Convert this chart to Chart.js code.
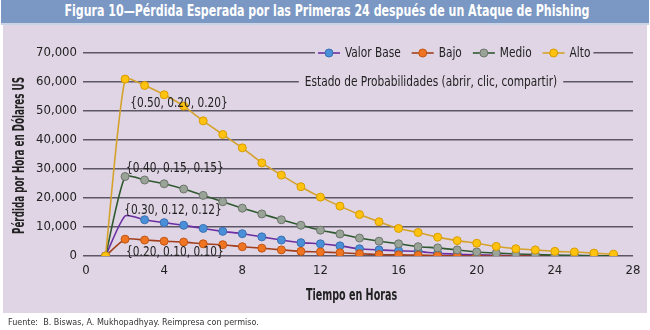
<!DOCTYPE html>
<html>
<head>
<meta charset="utf-8">
<script src="https://cdn.jsdelivr.net/npm/chart.js@4.4.1/dist/chart.umd.min.js"></script>
<style>
  html, body { margin: 0; padding: 0; background: #ffffff; }
  #wrap { position: relative; width: 650px; height: 330px; overflow: hidden; }
  #panel { position: absolute; left: 3px; top: 25px; width: 644px; height: 288px; background: #e0d5e5; }
  #titlebar { position: absolute; left: 1px; top: 0; width: 648px; height: 23px; background: #7b97c3;
    border-bottom: 2px solid #c8d3e6; }
  #titletext { position: absolute; left: 327px; top: 2px; white-space: nowrap; color: #ffffff;
    font-family: "DejaVu Sans Condensed", "Liberation Sans", sans-serif; font-weight: bold; font-size: 15px;
    line-height: 19px; transform-origin: 0 50%; }
  #footer { position: absolute; left: 8px; top: 316px; white-space: nowrap; font-family: "DejaVu Sans Condensed", "Liberation Sans", sans-serif;
    font-size: 9.5px; color: #333333; transform-origin: 0 50%; transform: scaleX(0.94); }
  #c { position: absolute; left: 0; top: 0; }
</style>
</head>
<body>
<div id="wrap">
  <div id="panel"></div>
  <div id="titlebar"></div>
  <span id="titletext">Figura 10—Pérdida Esperada por las Primeras 24 después de un Ataque de Phishing</span>
  <canvas id="c" width="650" height="330"></canvas>
  <div id="footer">Fuente:&nbsp; B. Biswas, A. Mukhopadhyay. Reimpresa con permiso.</div>
</div>
<script>
// ---- data ----
const hours = [1,2,3,4,5,6,7,8,9,10,11,12,13,14,15,16,17,18,19,20,21,22,23,24,25,26,27];
const valorBase = [0,13800,12500,11500,10600,9500,8500,7700,6600,5500,4600,4200,3500,2500,2100,1800,1600,900,600,400,200,100,100,0,0,0,0];
const bajo = [0,5800,5500,5100,4800,4200,3900,3200,2700,2100,1600,1400,1100,800,500,400,300,100,0,0,0,0,0,0,0,0,0];
const medio = [0,27400,26200,24900,23100,20900,18700,16500,14500,12500,10600,8900,7600,6200,5100,4200,3200,2800,2100,1400,1000,700,500,300,200,100,100];
const alto = [0,61000,58800,55600,51700,46600,41900,37300,32100,27900,23900,20300,17200,14300,11800,9500,8100,6500,5300,4400,3300,2500,2100,1600,1400,1000,600];
const seriesNames = ["Valor Base", "Bajo", "Medio", "Alto"];
const probLabels = ["{0.50, 0.20, 0.20}", "{0.40, 0.15, 0.15}", "{0.30, 0.12, 0.12}", "{0.20, 0.10, 0.10}"];
const legendTitle = "Estado de Probabilidades (abrir, clic, compartir)";
const xTitle = "Tiempo en Horas";
const yTitle = "Pérdida por Hora en Dólares US";

// ---- title fit ----
(function () {
  const t = document.getElementById('titletext');
  const w = t.getBoundingClientRect().width;
  const target = 525;
  t.style.transform = 'translateX(' + (-target / 2) + 'px) scaleX(' + (target / w) + ')';
})();

// ---- styling ----
const FONT = '"DejaVu Sans Condensed", "Liberation Sans", sans-serif';
const styles = [
  { line: '#6b2fa3', fill: '#4a90d9', border: '#3a6fb0' },
  { line: '#a13f1c', fill: '#f07522', border: '#c05515' },
  { line: '#2f5a2f', fill: '#9aa398', border: '#6b746a' },
  { line: '#d4a22a', fill: '#ffc20e', border: '#d89c00' }
];
const seriesData = [valorBase, bajo, medio, alto];
// label anchors in data units (hour, value)
const probAnchors = [[4.76, 52800], [4.55, 30300], [4.45, 15900], [4.55, 1100]];

const toXY = arr => hours.map((h, i) => ({ x: h, y: arr[i] }));

const datasets = seriesData.map((arr, k) => ({
  label: seriesNames[k],
  data: toXY(arr),
  borderColor: styles[k].line,
  backgroundColor: styles[k].fill,
  pointBackgroundColor: styles[k].fill,
  pointBorderColor: styles[k].border,
  pointBorderWidth: 1,
  pointRadius: k === 0 ? (ctx => ctx.dataIndex === 1 ? 0 : 4) : 4,
  borderWidth: 1.6,
  tension: 0.2,
  order: 4 - k
}));

function condText(ctx, text, x, y, factor, align, rot) {
  ctx.save();
  ctx.translate(x, y);
  if (rot) ctx.rotate(rot);
  ctx.scale(factor, 1);
  ctx.textAlign = align;
  ctx.fillText(text, 0, 0);
  ctx.restore();
}

const REG = 0.84, BOLDX = 0.71, BOLDY = 0.65;

const overlay = {
  id: 'overlay',
  afterDraw(chart) {
    const ctx = chart.ctx;
    const xs = chart.scales.x, ys = chart.scales.y;
    const area = chart.chartArea;
    ctx.save();
    ctx.textBaseline = 'middle';
    // legend
    ctx.font = '14px ' + FONT;
    const ly = ys.getPixelForValue(70000);
    const sym = 22, gapAfterSym = 5, gapItems = 11;
    const widths = seriesNames.map(n => ctx.measureText(n).width * REG);
    const total = widths.reduce((a, b) => a + b, 0) + seriesNames.length * (sym + gapAfterSym) + (seriesNames.length - 1) * gapItems;
    let lx = 318;
    ctx.fillStyle = '#e0d5e5';
    ctx.fillRect(lx - 3, ly - 9, total + 6, 18);
    seriesNames.forEach((n, k) => {
      ctx.strokeStyle = styles[k].line;
      ctx.lineWidth = 1.6;
      ctx.beginPath(); ctx.moveTo(lx, ly); ctx.lineTo(lx + sym, ly); ctx.stroke();
      ctx.beginPath(); ctx.arc(lx + sym / 2, ly, 4, 0, Math.PI * 2);
      ctx.fillStyle = styles[k].fill; ctx.fill();
      ctx.strokeStyle = styles[k].border; ctx.lineWidth = 1; ctx.stroke();
      ctx.fillStyle = '#222222';
      condText(ctx, n, lx + sym + gapAfterSym, ly + 0.5, REG, 'left');
      lx += sym + gapAfterSym + widths[k] + gapItems;
    });
    // legend title
    const ty = ys.getPixelForValue(60000);
    const tw = ctx.measureText(legendTitle).width * REG;
    const tcx = 431;
    ctx.fillStyle = '#e0d5e5';
    ctx.fillRect(tcx - tw / 2 - 6, ty - 8, tw + 12, 16);
    ctx.fillStyle = '#222222';
    condText(ctx, legendTitle, tcx, ty + 0.5, REG, 'center');
    // probability labels
    probLabels.forEach((t, k) => {
      condText(ctx, t, xs.getPixelForValue(probAnchors[k][0]), ys.getPixelForValue(probAnchors[k][1]), REG, 'center');
    });
    // axis titles
    ctx.font = 'bold 15px ' + FONT;
    condText(ctx, xTitle, (area.left + area.right) / 2 - 8, 296, BOLDX, 'center');
    condText(ctx, yTitle, 20, (area.top + area.bottom) / 2 + 1, BOLDY, 'center', -Math.PI / 2);
    ctx.restore();
  }
};

new Chart(document.getElementById('c'), {
  type: 'line',
  data: { datasets },
  options: {
    responsive: false,
    animation: false,
    events: [],
    layout: { padding: { top: 53, right: 17, left: 0, bottom: 0 } },
    plugins: { legend: { display: false }, tooltip: { enabled: false } },
    scales: {
      x: {
        type: 'linear', min: 0, max: 28,
        ticks: { stepSize: 4, color: '#222222', font: { family: FONT, size: 13 }, padding: 7 },
        grid: { display: false, drawTicks: false },
        border: { display: false },
        title: { display: false },
        afterFit(s) { s.height = 74; }
      },
      y: {
        min: 0, max: 70000,
        ticks: { stepSize: 10000, color: '#222222', font: { family: FONT, size: 13 }, padding: 6,
          callback: v => v.toLocaleString('en-US') },
        grid: { color: '#5d5664', lineWidth: 1.5, tickLength: 3, drawTicks: true },
        border: { display: false },
        title: { display: false },
        afterFit(s) { s.width = 86; }
      }
    }
  },
  plugins: [overlay]
});
</script>
</body>
</html>
